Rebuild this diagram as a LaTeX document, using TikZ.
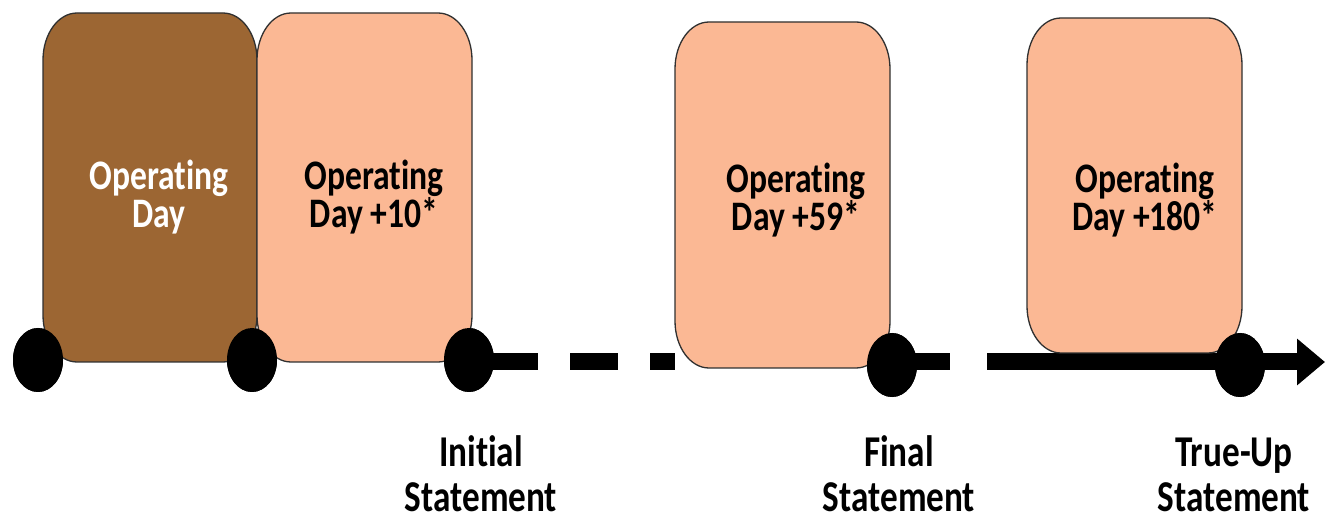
\documentclass[tikz,border=0pt]{standalone}
\usepackage{fontspec}
\setmainfont{Carlito}[Ligatures={NoCommon,NoContextual}, Contextuals=NoAlternate]
\usetikzlibrary{arrows.meta,shapes.geometric,calc}
\definecolor{opbrown}{HTML}{9C6633}
\definecolor{peach}{HTML}{FBB894}
\definecolor{edgegray}{HTML}{303030}
\newcommand\mystack[1]{\vtop{\halign{\hfil##\hfil\cr#1\crcr}}}
\newcommand\boxfont{\fontsize{42}{38}\selectfont\bfseries}
\newcommand\labfont{\fontsize{44}{45}\selectfont\bfseries}
\newcommand\boxtext[1]{\scalebox{0.8}[1]{\boxfont\mystack{#1}}}
\newcommand\labtext[1]{\scalebox{0.8}[1]{\labfont\mystack{#1}}}
\newcommand\ovalbox[2]{%
  \path[draw=edgegray, line width=1.3pt, fill=#2]
    let \p1=(#1.north west), \p2=(#1.south east) in
    (\x1, \y1-47) arc[start angle=180, end angle=90, x radius=34pt, y radius=47pt]
    -- (\x2-34, \y1) arc[start angle=90, end angle=0, x radius=34pt, y radius=47pt]
    -- (\x2, \y2+47) arc[start angle=0, end angle=-90, x radius=34pt, y radius=47pt]
    -- (\x1+34, \y2) arc[start angle=270, end angle=180, x radius=34pt, y radius=47pt]
    -- cycle;}
\tikzset{
  boxnode/.style={rectangle, draw=none, inner sep=0pt, outer sep=0pt},
  dotnode/.style={ellipse, fill=black, draw=none, inner sep=0pt, minimum width=50pt, minimum height=64pt},
  txtnode/.style={anchor=base, inner sep=0pt, outer sep=0pt},
  timeline/.style={line width=17pt, black, line cap=butt},
}
\begin{document}
\begin{tikzpicture}[x=1pt,y=-1pt]
\useasboundingbox (0,0) rectangle (1325,518);
\fill[white] (0,0) rectangle (1325,518);

% box placeholders
\node[boxnode, minimum width=214pt, minimum height=349pt] (b1) at (150,187.5) {};
\node[boxnode, minimum width=215pt, minimum height=349pt] (b2) at (364.5,187.5) {};
\node[boxnode, minimum width=215pt, minimum height=346pt] (b3) at (782.5,195) {};
\node[boxnode, minimum width=215pt, minimum height=335pt] (b4) at (1134.5,185.5) {};

% dots
\node[dotnode] (d1) at (38,360) {};
\node[dotnode] (d2) at (252,360) {};
\node[dotnode] (d3) at (469,360) {};
\node[dotnode] (d4) at (892,365) {};
\node[dotnode] (d5) at (1240,365) {};
\coordinate (axis) at (0,362);
\coordinate (tip) at (1325,362);

% timeline (behind boxes)
\draw[timeline, dash pattern=on 69pt off 32pt on 48pt off 32pt on 25pt off 400pt]
  (d3.center |- axis) -- (d4.center |- axis);
\draw[timeline, dash pattern=on 58pt off 37pt on 600pt,
      -{Triangle[length=28pt, width=45pt]}]
  (d4.center |- axis) -- (tip);

% boxes
\ovalbox{b1}{opbrown}
\ovalbox{b2}{peach}
\ovalbox{b3}{peach}
\ovalbox{b4}{peach}

% box texts
\node[txtnode, text=white] (t1) at (159,190) {\boxtext{Operating\cr Day}};
\node[txtnode] (t2) at (374,190) {\boxtext{Operating\cr Day +10*}};
\node[txtnode] (t3) at (796,193) {\boxtext{Operating\cr Day +59*}};
\node[txtnode] (t4) at (1145,193) {\boxtext{Operating\cr Day +180*}};

% dots on top
\foreach \d in {d1,d2,d3,d4,d5} \fill (\d.center) ellipse[x radius=25pt, y radius=32pt];

% labels
\node[txtnode] (l3) at (481,466) {\labtext{Initial\cr Statement}};
\node[txtnode] (l4) at (899,466) {\labtext{Final\cr Statement}};
\node[txtnode] (l5) at (1234,466) {\labtext{True-Up\cr Statement}};
\end{tikzpicture}
\end{document}
